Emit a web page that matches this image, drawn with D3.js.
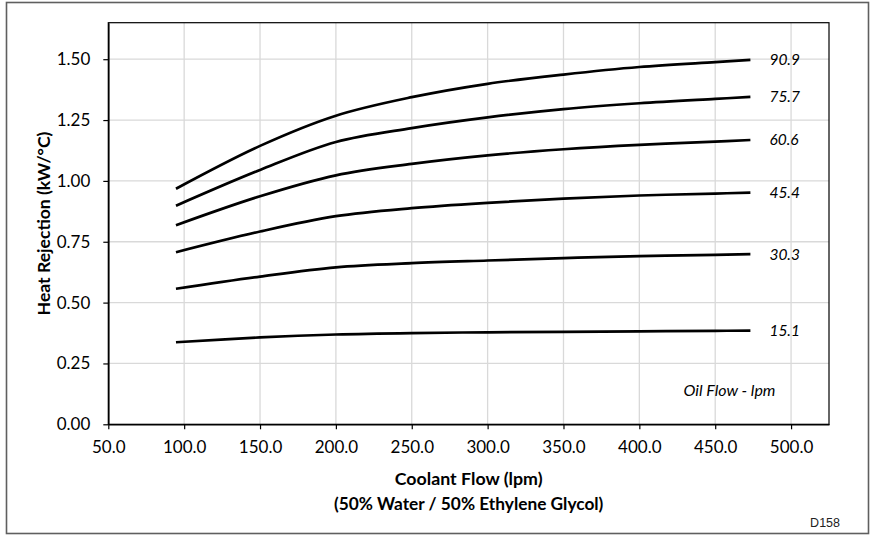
<!DOCTYPE html>
<html>
<head>
<meta charset="utf-8">
<script src="https://cdn.jsdelivr.net/npm/d3@7"></script>
<style>
  html, body { margin: 0; padding: 0; background: #fff; }
  svg { display: block; }
</style>
</head>
<body>
<svg id="chart" width="870" height="535"></svg>
<script>
// ---- data ----
const coolantFlow = [94.6, 150, 200, 250, 300, 350, 400, 450, 473.2];
const oilFlows = ["90.9", "75.7", "60.6", "45.4", "30.3", "15.1"];
const hr_90_9 = [0.968, 1.144, 1.268, 1.344, 1.399, 1.437, 1.468, 1.488, 1.497];
const hr_75_7 = [0.898, 1.045, 1.160, 1.217, 1.261, 1.295, 1.319, 1.337, 1.345];
const hr_60_6 = [0.818, 0.937, 1.023, 1.070, 1.105, 1.130, 1.148, 1.161, 1.168];
const hr_45_4 = [0.707, 0.792, 0.855, 0.888, 0.910, 0.927, 0.940, 0.948, 0.952];
const hr_30_3 = [0.557, 0.607, 0.645, 0.662, 0.673, 0.683, 0.691, 0.696, 0.699];
const hr_15_1 = [0.337, 0.357, 0.369, 0.375, 0.378, 0.380, 0.382, 0.384, 0.385];
const seriesValues = [hr_90_9, hr_75_7, hr_60_6, hr_45_4, hr_30_3, hr_15_1];
const xTicks = [50, 100, 150, 200, 250, 300, 350, 400, 450, 500];
const yTicks = [0, 0.25, 0.5, 0.75, 1.0, 1.25, 1.5];
const xTitle1 = "Coolant Flow (lpm)";
const xTitle2 = "(50% Water / 50% Ethylene Glycol)";
const yTitle = "Heat Rejection (kW/°C)";
const legendNote = "Oil Flow - lpm";
const figCode = "D158";

// ---- layout ----
const svg = d3.select("#chart");
const L = 108.3, R = 829, T = 22.7, B = 424.3;
const x = d3.scaleLinear().domain([50, 525]).range([L, R]);
const y = d3.scaleLinear().domain([0, 1.65]).range([B, T]);
const FONT = "Lato, 'Open Sans', sans-serif";

// outer frame
svg.append("rect").attr("x", 6.5).attr("y", 2.5).attr("width", 862).attr("height", 531)
  .attr("fill", "#fff").attr("stroke", "#5f5f5f").attr("stroke-width", 1.6);

// gridlines
const grid = svg.append("g");
grid.selectAll("line.v").data(xTicks.filter(d => d > 50)).join("line")
  .attr("x1", d => x(d)).attr("x2", d => x(d)).attr("y1", T).attr("y2", B)
  .attr("stroke", "#d9d9d9").attr("stroke-width", 1.3);
grid.selectAll("line.h").data(yTicks.filter(d => d > 0)).join("line")
  .attr("x1", L).attr("x2", R).attr("y1", d => y(d)).attr("y2", d => y(d))
  .attr("stroke", "#d9d9d9").attr("stroke-width", 1.3);

// plot border
svg.append("rect").attr("x", L).attr("y", T).attr("width", R - L).attr("height", B - T)
  .attr("fill", "none").attr("stroke", "#000").attr("stroke-width", 1.2);

// axes
const xAxis = d3.axisBottom(x).tickValues(xTicks).tickSize(5).tickSizeOuter(0)
  .tickFormat(d3.format(".1f")).tickPadding(12);
const gx = svg.append("g").attr("transform", `translate(0,${B})`).call(xAxis);
gx.select(".domain").attr("stroke", "#000").attr("stroke-width", 1.6);
gx.selectAll(".tick line").attr("stroke", "#000").attr("stroke-width", 1.2);
gx.selectAll("text").attr("font-family", FONT).attr("font-size", 17).attr("fill", "#000");

const yAxis = d3.axisLeft(y).tickValues(yTicks).tickSize(5).tickSizeOuter(0)
  .tickFormat(d3.format(".2f")).tickPadding(13);
const gy = svg.append("g").attr("transform", `translate(${L},0)`).call(yAxis);
gy.select(".domain").attr("stroke", "#000").attr("stroke-width", 1.6);
gy.selectAll(".tick line").attr("stroke", "#000").attr("stroke-width", 1.2);
gy.selectAll("text").attr("font-family", FONT).attr("font-size", 17).attr("fill", "#000");

// lines
const line = d3.line().x((d, i) => x(coolantFlow[i])).y(d => y(d)).curve(d3.curveCatmullRom.alpha(0.5));
svg.append("g").selectAll("path").data(seriesValues).join("path")
  .attr("d", d => line(d)).attr("fill", "none").attr("stroke", "#000")
  .attr("stroke-width", 2.7).attr("stroke-linecap", "butt");

// series labels
svg.append("g").selectAll("text").data(seriesValues).join("text")
  .attr("x", x(coolantFlow[coolantFlow.length - 1]) + 19)
  .attr("y", d => y(d[d.length - 1]))
  .attr("dy", "0.35em")
  .attr("font-family", FONT).attr("font-style", "italic").attr("font-size", 15.5)
  .attr("fill", "#000")
  .text((d, i) => oilFlows[i]);

// note
svg.append("text").attr("x", 729.5).attr("y", 396).attr("text-anchor", "middle")
  .attr("font-family", FONT).attr("font-style", "italic").attr("font-size", 16)
  .text(legendNote);

// titles
svg.append("text").attr("x", (L + R) / 2).attr("y", 485).attr("text-anchor", "middle")
  .attr("font-family", FONT).attr("font-weight", "bold").attr("font-size", 17.8)
  .text(xTitle1);
svg.append("text").attr("x", (L + R) / 2).attr("y", 509.5).attr("text-anchor", "middle")
  .attr("font-family", FONT).attr("font-weight", "bold").attr("font-size", 17.3)
  .text(xTitle2);
svg.append("text")
  .attr("transform", `translate(49.5,${(T + B) / 2}) rotate(-90)`)
  .attr("text-anchor", "middle")
  .attr("font-family", FONT).attr("font-weight", "bold").attr("font-size", 17.6)
  .text(yTitle);

svg.append("text").attr("x", 840).attr("y", 526.5).attr("text-anchor", "end")
  .attr("font-family", "'Liberation Sans', Arial, sans-serif").attr("font-size", 12.5)
  .attr("fill", "#222")
  .text(figCode);
</script>
</body>
</html>
